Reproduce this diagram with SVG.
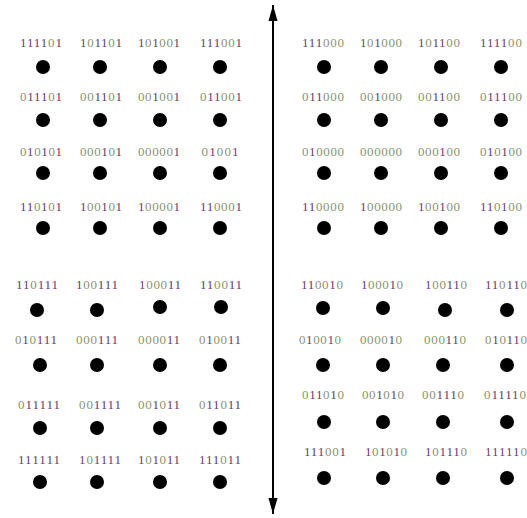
<svg xmlns="http://www.w3.org/2000/svg" width="527" height="518" viewBox="0 0 527 518">
<style>
.lbl{font-family:"Liberation Serif","Times New Roman",serif;font-size:13px;fill:#66406c;text-anchor:middle}
.z{fill:#8a9470}
.dot{fill:#000}
.axis{stroke:#000;stroke-width:2;fill:none}
</style>
<defs>
<marker id="ah" viewBox="0 0 16 10" refX="16" refY="5" markerWidth="16" markerHeight="10" markerUnits="userSpaceOnUse" orient="auto-start-reverse">
<path d="M0,0.5 L16,5 L0,9.5 Z" fill="#000"/>
</marker>
</defs>
<rect width="527" height="518" fill="#fff"/>
<g id="connectors">
<line class="axis" x1="273" y1="5" x2="273" y2="514" marker-start="url(#ah)" marker-end="url(#ah)"/>
</g>
<!-- left top -->
<g id="nL11"><text class="lbl" x="41" y="47" textLength="42">1111<tspan class="z">0</tspan>1</text><circle class="dot" cx="43" cy="67" r="7"/></g>
<g id="nL12"><text class="lbl" x="101" y="47" textLength="42">1<tspan class="z">0</tspan>11<tspan class="z">0</tspan>1</text><circle class="dot" cx="100" cy="67" r="7"/></g>
<g id="nL13"><text class="lbl" x="159" y="47" textLength="42">1<tspan class="z">0</tspan>1<tspan class="z">00</tspan>1</text><circle class="dot" cx="160" cy="67" r="7"/></g>
<g id="nL14"><text class="lbl" x="221" y="47" textLength="42">111<tspan class="z">00</tspan>1</text><circle class="dot" cx="220" cy="67" r="7"/></g>
<g id="nL21"><text class="lbl" x="41" y="101" textLength="42"><tspan class="z">0</tspan>111<tspan class="z">0</tspan>1</text><circle class="dot" cx="43" cy="120" r="7"/></g>
<g id="nL22"><text class="lbl" x="101" y="101" textLength="42"><tspan class="z">00</tspan>11<tspan class="z">0</tspan>1</text><circle class="dot" cx="100" cy="120" r="7"/></g>
<g id="nL23"><text class="lbl" x="159" y="101" textLength="42"><tspan class="z">00</tspan>1<tspan class="z">00</tspan>1</text><circle class="dot" cx="160" cy="120" r="7"/></g>
<g id="nL24"><text class="lbl" x="221" y="101" textLength="42"><tspan class="z">0</tspan>11<tspan class="z">00</tspan>1</text><circle class="dot" cx="220" cy="120" r="7"/></g>
<g id="nL31"><text class="lbl" x="41" y="156" textLength="42"><tspan class="z">0</tspan>1<tspan class="z">0</tspan>1<tspan class="z">0</tspan>1</text><circle class="dot" cx="43" cy="173" r="7"/></g>
<g id="nL32"><text class="lbl" x="101" y="156" textLength="42"><tspan class="z">000</tspan>1<tspan class="z">0</tspan>1</text><circle class="dot" cx="100" cy="173" r="7"/></g>
<g id="nL33"><text class="lbl" x="159" y="156" textLength="42"><tspan class="z">00000</tspan>1</text><circle class="dot" cx="160" cy="173" r="7"/></g>
<g id="nL34"><text class="lbl" x="220" y="156" textLength="37"><tspan class="z">0</tspan>1<tspan class="z">00</tspan>1</text><circle class="dot" cx="220" cy="173" r="7"/></g>
<g id="nL41"><text class="lbl" x="41" y="211" textLength="42">11<tspan class="z">0</tspan>1<tspan class="z">0</tspan>1</text><circle class="dot" cx="43" cy="228" r="7"/></g>
<g id="nL42"><text class="lbl" x="101" y="211" textLength="42">1<tspan class="z">00</tspan>1<tspan class="z">0</tspan>1</text><circle class="dot" cx="100" cy="228" r="7"/></g>
<g id="nL43"><text class="lbl" x="159" y="211" textLength="42">1<tspan class="z">0000</tspan>1</text><circle class="dot" cx="160" cy="228" r="7"/></g>
<g id="nL44"><text class="lbl" x="221" y="211" textLength="42">11<tspan class="z">000</tspan>1</text><circle class="dot" cx="220" cy="228" r="7"/></g>
<!-- left bottom -->
<g id="nL51"><text class="lbl" x="37" y="289" textLength="42">11<tspan class="z">0</tspan>111</text><circle class="dot" cx="37" cy="310" r="7"/></g>
<g id="nL52"><text class="lbl" x="97" y="289" textLength="42">1<tspan class="z">00</tspan>111</text><circle class="dot" cx="97" cy="310" r="7"/></g>
<g id="nL53"><text class="lbl" x="160" y="289" textLength="42">1<tspan class="z">000</tspan>11</text><circle class="dot" cx="160" cy="307" r="7"/></g>
<g id="nL54"><text class="lbl" x="221" y="289" textLength="42">11<tspan class="z">00</tspan>11</text><circle class="dot" cx="221" cy="307" r="7"/></g>
<g id="nL61"><text class="lbl" x="36" y="344" textLength="42"><tspan class="z">0</tspan>1<tspan class="z">0</tspan>111</text><circle class="dot" cx="40" cy="365" r="7"/></g>
<g id="nL62"><text class="lbl" x="97" y="344" textLength="42"><tspan class="z">000</tspan>111</text><circle class="dot" cx="97" cy="365" r="7"/></g>
<g id="nL63"><text class="lbl" x="159" y="344" textLength="42"><tspan class="z">0000</tspan>11</text><circle class="dot" cx="160" cy="365" r="7"/></g>
<g id="nL64"><text class="lbl" x="220" y="344" textLength="42"><tspan class="z">0</tspan>1<tspan class="z">00</tspan>11</text><circle class="dot" cx="220" cy="365" r="7"/></g>
<g id="nL71"><text class="lbl" x="39" y="409" textLength="42"><tspan class="z">0</tspan>11111</text><circle class="dot" cx="40" cy="428" r="7"/></g>
<g id="nL72"><text class="lbl" x="100" y="409" textLength="42"><tspan class="z">00</tspan>1111</text><circle class="dot" cx="97" cy="428" r="7"/></g>
<g id="nL73"><text class="lbl" x="159" y="409" textLength="42"><tspan class="z">00</tspan>1<tspan class="z">0</tspan>11</text><circle class="dot" cx="160" cy="428" r="7"/></g>
<g id="nL74"><text class="lbl" x="220" y="409" textLength="42"><tspan class="z">0</tspan>11<tspan class="z">0</tspan>11</text><circle class="dot" cx="220" cy="428" r="7"/></g>
<g id="nL81"><text class="lbl" x="39" y="464" textLength="42">111111</text><circle class="dot" cx="40" cy="482" r="7"/></g>
<g id="nL82"><text class="lbl" x="100" y="464" textLength="42">1<tspan class="z">0</tspan>1111</text><circle class="dot" cx="97" cy="482" r="7"/></g>
<g id="nL83"><text class="lbl" x="159" y="464" textLength="42">1<tspan class="z">0</tspan>1<tspan class="z">0</tspan>11</text><circle class="dot" cx="160" cy="482" r="7"/></g>
<g id="nL84"><text class="lbl" x="220" y="464" textLength="42">111<tspan class="z">0</tspan>11</text><circle class="dot" cx="220" cy="482" r="7"/></g>
<!-- right top -->
<g id="nR11"><text class="lbl" x="323" y="47" textLength="42">111<tspan class="z">000</tspan></text><circle class="dot" cx="324" cy="67" r="7"/></g>
<g id="nR12"><text class="lbl" x="381" y="47" textLength="42">1<tspan class="z">0</tspan>1<tspan class="z">000</tspan></text><circle class="dot" cx="381" cy="67" r="7"/></g>
<g id="nR13"><text class="lbl" x="439" y="47" textLength="42">1<tspan class="z">0</tspan>11<tspan class="z">00</tspan></text><circle class="dot" cx="441" cy="67" r="7"/></g>
<g id="nR14"><text class="lbl" x="501" y="47" textLength="42">1111<tspan class="z">00</tspan></text><circle class="dot" cx="501" cy="67" r="7"/></g>
<g id="nR21"><text class="lbl" x="323" y="101" textLength="42"><tspan class="z">0</tspan>11<tspan class="z">000</tspan></text><circle class="dot" cx="324" cy="120" r="7"/></g>
<g id="nR22"><text class="lbl" x="381" y="101" textLength="42"><tspan class="z">00</tspan>1<tspan class="z">000</tspan></text><circle class="dot" cx="381" cy="120" r="7"/></g>
<g id="nR23"><text class="lbl" x="439" y="101" textLength="42"><tspan class="z">00</tspan>11<tspan class="z">00</tspan></text><circle class="dot" cx="441" cy="120" r="7"/></g>
<g id="nR24"><text class="lbl" x="501" y="101" textLength="42"><tspan class="z">0</tspan>111<tspan class="z">00</tspan></text><circle class="dot" cx="501" cy="120" r="7"/></g>
<g id="nR31"><text class="lbl" x="323" y="156" textLength="42"><tspan class="z">0</tspan>1<tspan class="z">0000</tspan></text><circle class="dot" cx="324" cy="173" r="7"/></g>
<g id="nR32"><text class="lbl" x="381" y="156" textLength="42"><tspan class="z">000000</tspan></text><circle class="dot" cx="381" cy="173" r="7"/></g>
<g id="nR33"><text class="lbl" x="439" y="156" textLength="42"><tspan class="z">000</tspan>1<tspan class="z">00</tspan></text><circle class="dot" cx="441" cy="173" r="7"/></g>
<g id="nR34"><text class="lbl" x="501" y="156" textLength="42"><tspan class="z">0</tspan>1<tspan class="z">0</tspan>1<tspan class="z">00</tspan></text><circle class="dot" cx="501" cy="173" r="7"/></g>
<g id="nR41"><text class="lbl" x="323" y="211" textLength="42">11<tspan class="z">0000</tspan></text><circle class="dot" cx="324" cy="228" r="7"/></g>
<g id="nR42"><text class="lbl" x="381" y="211" textLength="42">1<tspan class="z">00000</tspan></text><circle class="dot" cx="381" cy="228" r="7"/></g>
<g id="nR43"><text class="lbl" x="439" y="211" textLength="42">1<tspan class="z">00</tspan>1<tspan class="z">00</tspan></text><circle class="dot" cx="441" cy="228" r="7"/></g>
<g id="nR44"><text class="lbl" x="501" y="211" textLength="42">11<tspan class="z">0</tspan>1<tspan class="z">00</tspan></text><circle class="dot" cx="501" cy="228" r="7"/></g>
<!-- right bottom -->
<g id="nR51"><text class="lbl" x="322" y="289" textLength="42">11<tspan class="z">00</tspan>1<tspan class="z">0</tspan></text><circle class="dot" cx="323" cy="308" r="7"/></g>
<g id="nR52"><text class="lbl" x="382" y="289" textLength="42">1<tspan class="z">000</tspan>1<tspan class="z">0</tspan></text><circle class="dot" cx="383" cy="308" r="7"/></g>
<g id="nR53"><text class="lbl" x="446" y="289" textLength="42">1<tspan class="z">00</tspan>11<tspan class="z">0</tspan></text><circle class="dot" cx="445" cy="310" r="7"/></g>
<g id="nR54"><text class="lbl" x="506" y="289" textLength="42">11<tspan class="z">0</tspan>11<tspan class="z">0</tspan></text><circle class="dot" cx="507" cy="310" r="7"/></g>
<g id="nR61"><text class="lbl" x="320" y="344" textLength="42"><tspan class="z">0</tspan>1<tspan class="z">00</tspan>1<tspan class="z">0</tspan></text><circle class="dot" cx="323" cy="365" r="7"/></g>
<g id="nR62"><text class="lbl" x="381" y="344" textLength="42"><tspan class="z">0000</tspan>1<tspan class="z">0</tspan></text><circle class="dot" cx="383" cy="365" r="7"/></g>
<g id="nR63"><text class="lbl" x="445" y="344" textLength="42"><tspan class="z">000</tspan>11<tspan class="z">0</tspan></text><circle class="dot" cx="443" cy="365" r="7"/></g>
<g id="nR64"><text class="lbl" x="506" y="344" textLength="42"><tspan class="z">0</tspan>1<tspan class="z">0</tspan>11<tspan class="z">0</tspan></text><circle class="dot" cx="507" cy="365" r="7"/></g>
<g id="nR71"><text class="lbl" x="323" y="399" textLength="42"><tspan class="z">0</tspan>11<tspan class="z">0</tspan>1<tspan class="z">0</tspan></text><circle class="dot" cx="324" cy="422" r="7"/></g>
<g id="nR72"><text class="lbl" x="383" y="399" textLength="42"><tspan class="z">00</tspan>1<tspan class="z">0</tspan>1<tspan class="z">0</tspan></text><circle class="dot" cx="383" cy="422" r="7"/></g>
<g id="nR73"><text class="lbl" x="443" y="399" textLength="42"><tspan class="z">00</tspan>111<tspan class="z">0</tspan></text><circle class="dot" cx="443" cy="422" r="7"/></g>
<g id="nR74"><text class="lbl" x="505" y="399" textLength="42"><tspan class="z">0</tspan>1111<tspan class="z">0</tspan></text><circle class="dot" cx="507" cy="422" r="7"/></g>
<g id="nR81"><text class="lbl" x="325" y="456" textLength="42">111<tspan class="z">00</tspan>1</text><circle class="dot" cx="324" cy="478" r="7"/></g>
<g id="nR82"><text class="lbl" x="386" y="456" textLength="42">1<tspan class="z">0</tspan>1<tspan class="z">0</tspan>1<tspan class="z">0</tspan></text><circle class="dot" cx="383" cy="478" r="7"/></g>
<g id="nR83"><text class="lbl" x="446" y="456" textLength="42">1<tspan class="z">0</tspan>111<tspan class="z">0</tspan></text><circle class="dot" cx="443" cy="478" r="7"/></g>
<g id="nR84"><text class="lbl" x="506" y="456" textLength="42">11111<tspan class="z">0</tspan></text><circle class="dot" cx="507" cy="478" r="7"/></g>
</svg>
